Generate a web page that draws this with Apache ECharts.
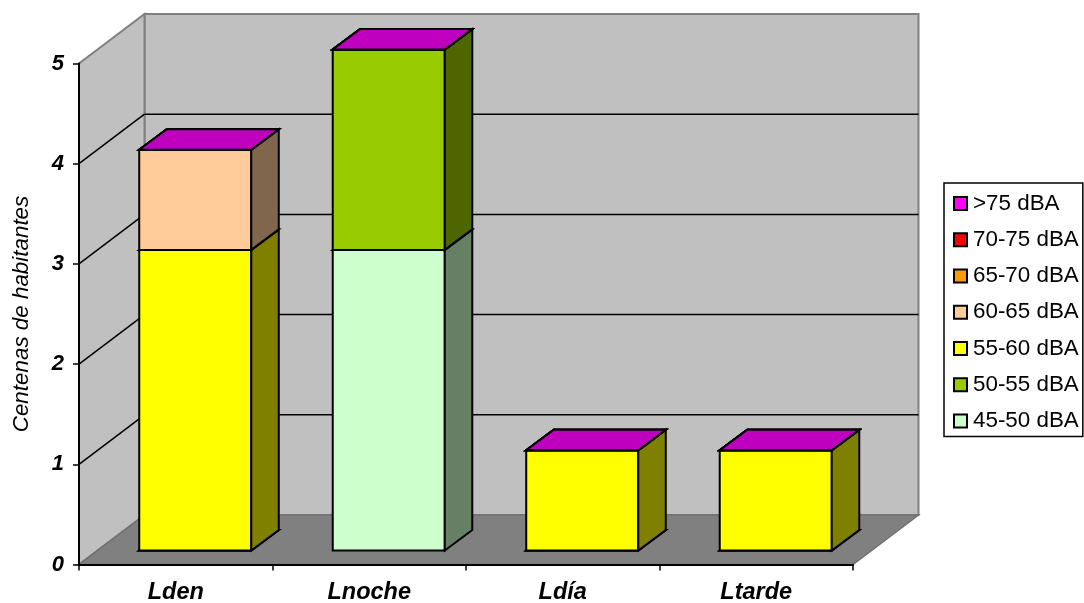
<!DOCTYPE html>
<html><head><meta charset="utf-8">
<style>html,body{margin:0;padding:0;background:#fff}#c{width:1084px;height:603px}</style>
<script src="https://cdn.jsdelivr.net/npm/echarts@6/dist/echarts.min.js"></script>
</head><body><div id="c"></div>
<script>
const categories = ['Lden','Lnoche','Ldía','Ltarde'];
const yTicks = [0,1,2,3,4,5];
const bandNames = ['45-50 dBA','50-55 dBA','55-60 dBA','60-65 dBA','65-70 dBA','70-75 dBA','>75 dBA'];
const v4550 = [0,3,0,0];
const v5055 = [0,2,0,0];
const v5560 = [3,0,1,1];
const v6065 = [1,0,0,0];
const v6570 = [0,0,0,0];
const v7075 = [0,0,0,0];
const v75up = [0,0,0,0];
const bandValues = [v4550,v5055,v5560,v6065,v6570,v7075,v75up];
const bandColors = ['#ccffcc','#99cc00','#ffff00','#ffcc99','#ff9900','#ff0000','#ff00ff'];

function shade(hex,f){
  const n=parseInt(hex.slice(1),16);
  return 'rgb('+[(n>>16)&255,(n>>8)&255,n&255].map(c=>Math.round(c*f)).join(',')+')';
}
const wallDX=65.5, wallDY=-49.5, barOffX=19.5, barOffY=-14, barDX=27.5, barDY=-20.5, barFrac=0.579;
const poly=(pts,style,extra)=>Object.assign({type:'polygon',shape:{points:pts},style},extra||{});
const line=(a,b,stroke,w)=>({type:'line',shape:{x1:a[0],y1:a[1],x2:b[0],y2:b[1]},style:{stroke,lineWidth:w,fill:null}});

function renderWalls(params,api){
  const n=categories.length, top=yTicks[yTicks.length-1];
  const o=api.coord([0,0]); const catW=api.size([1,0])[0];
  const ox=o[0]-catW/2, oy=o[1]; const ex=ox+catW*n;
  const ty=api.coord([0,top])[1];
  const g='#808080', w='#c0c0c0';
  const kids=[];
  kids.push(poly([[ox+wallDX,ty+wallDY],[ex+wallDX,ty+wallDY],[ex+wallDX,oy+wallDY],[ox+wallDX,oy+wallDY]],{fill:w,stroke:g,lineWidth:2}));
  kids.push(poly([[ox,oy],[ox+wallDX,oy+wallDY],[ox+wallDX,ty+wallDY],[ox,ty]],{fill:w,stroke:g,lineWidth:2}));
  kids.push(poly([[ox,oy],[ex,oy],[ex+wallDX,oy+wallDY],[ox+wallDX,oy+wallDY]],{fill:g,stroke:'#707070',lineWidth:1.5}));
  yTicks.slice(1,-1).forEach(t=>{
    const y=api.coord([0,t])[1];
    kids.push(line([ox,y],[ox+wallDX,y+wallDY],'#000',1.5));
    kids.push(line([ox+wallDX,y+wallDY],[ex+wallDX,y+wallDY],'#000',1.5));
  });
  return {type:'group',children:kids};
}
function renderBar(color){
  return function(params,api){
    const cat=api.value(0), a=api.value(1), b=api.value(2);
    const catW=api.size([1,0])[0], bw=catW*barFrac;
    const pa=api.coord([cat,a]), pb=api.coord([cat,b]);
    const x0=pa[0]-bw/2+barOffX, x1=x0+bw;
    const yb=pa[1]+barOffY, yt=pb[1]+barOffY;
    const st={stroke:'#000',lineWidth:2,lineJoin:'miter'};
    const kids=[];
    if(b>a){
      kids.push(poly([[x0,yb],[x1,yb],[x1,yt],[x0,yt]],Object.assign({fill:color},st)));
      kids.push(poly([[x1,yb],[x1+barDX,yb+barDY],[x1+barDX,yt+barDY],[x1,yt]],Object.assign({fill:shade(color,0.5)},st)));
    }
    kids.push(poly([[x0,yt],[x1,yt],[x1+barDX,yt+barDY],[x0+barDX,yt+barDY]],Object.assign({fill:shade(color,0.75)},st)));
    return {type:'group',children:kids};
  };
}
const running=categories.map(()=>0);
const barSeries=bandNames.map((name,s)=>{
  const data=bandValues[s].map((v,i)=>{const base=running[i]; running[i]+=v; return [i,base,base+v];});
  return {name,type:'custom',z:3+s,animation:false,silent:true,
    renderItem:renderBar(bandColors[s]),data,encode:{x:0,y:[1,2]},
    itemStyle:{color:bandColors[s],borderColor:'#000',borderWidth:1.5}};
});
const chart=echarts.init(document.getElementById('c'),null,{renderer:'canvas'});
chart.setOption({
  animation:false,backgroundColor:'#fff',
  textStyle:{fontFamily:'"Liberation Sans",Arial,sans-serif'},
  grid:{left:79,top:63.5,width:774,height:501,containLabel:false,outerBoundsMode:'none'},
  xAxis:{type:'category',data:categories,z:10,boundaryGap:true,
    axisLine:{lineStyle:{color:'#000',width:2}},
    axisTick:{show:true,length:6,alignWithLabel:false,lineStyle:{color:'#000',width:1.5}},
    axisLabel:{fontSize:23.5,fontWeight:'bold',fontStyle:'italic',color:'#000',margin:17,fontFamily:'"Liberation Sans"'},
    splitLine:{show:false}},
  yAxis:{type:'value',min:0,max:5,interval:1,z:10,
    name:'Centenas de habitantes',nameLocation:'middle',nameGap:46,nameRotate:90,
    nameTextStyle:{fontSize:22.4,fontStyle:'italic',color:'#000',fontFamily:'"Liberation Sans"'},
    axisLine:{show:true,lineStyle:{color:'#000',width:2}},
    axisTick:{show:true,length:6,lineStyle:{color:'#000',width:1.5}},
    axisLabel:{fontSize:22,fontWeight:'bold',fontStyle:'italic',color:'#000',margin:15,fontFamily:'"Liberation Sans"'},
    splitLine:{show:false}},
  legend:{orient:'vertical',left:944,top:183,data:bandNames.slice().reverse(),
    backgroundColor:'#fff',borderColor:'#000',borderWidth:1.5,borderRadius:0,
    padding:[8,4,3,9],itemWidth:13,itemHeight:13,itemGap:11.25,selectedMode:false,
    textStyle:{fontSize:22.4,color:'#000',lineHeight:22,padding:[3,0,0,1],fontFamily:'"Liberation Sans"'},
    icon:'rect'},
  series:[{name:'walls',type:'custom',z:1,animation:false,silent:true,renderItem:renderWalls,data:[[0,0]],encode:{x:0,y:1}}].concat(barSeries)
});
</script></body></html>
